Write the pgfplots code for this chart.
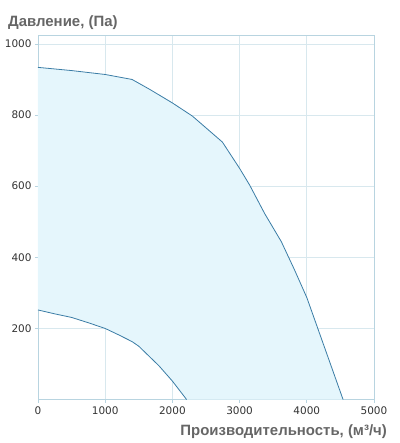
\documentclass[border=0pt]{standalone}
\usepackage{pgfplots}
\pgfplotsset{compat=1.18}
\usepackage{fontspec}
\setmainfont{DejaVu Sans}
\newfontfamily\labfont{Liberation Sans}
\definecolor{fillc}{HTML}{E5F6FC}
\definecolor{linec}{HTML}{3A7CA5}
\definecolor{gridc}{HTML}{D8E8EE}
\definecolor{axc}{HTML}{B8D4E0}
\definecolor{titc}{HTML}{666666}
\definecolor{tickc}{HTML}{333333}
\begin{document}
\begin{tikzpicture}
\begin{axis}[
  scale only axis, width=336bp, height=364.6bp,
  xmin=0, xmax=5000, ymin=0, ymax=1025,
  xtick={0,1000,...,5000}, ytick={200,400,...,1000},
  xtick pos=bottom, ytick pos=left,
  grid=major, major grid style={gridc, line width=0.7pt},
  axis line style={axc, line width=0.8pt},
  tick style={axc, line width=0.7pt}, tick align=outside, major tick length=3bp,
  /pgf/number format/assume math mode=true,
  /pgf/number format/1000 sep={},
  tick label style={font=\fontsize{10.5}{12}\selectfont, text=tickc},
  xticklabel style={yshift=-1bp},
  clip=false,
  axis on top=false,
]
% filled region
\addplot[fill=fillc, draw=none] coordinates {
  (0,934) (500,925) (1000,914) (1400,900) (1664,872) (2000,834) (2298,797)
  (2744,724) (3000,650) (3150,603) (3373,523) (3621,444) (3819,364) (4000,287) (4540,0)
  (2212,0) (2000,52) (1800,95) (1500,150) (1400,163) (1200,182) (1000,200)
  (750,216) (500,231) (250,241) (0,252)
} -- cycle;
% upper curve
\addplot[linec, line width=0.8pt] coordinates {
  (0,934) (500,925) (1000,914) (1400,900) (1664,872) (2000,834) (2298,797)
  (2744,724) (3000,650) (3150,603) (3373,523) (3621,444) (3819,364) (4000,287) (4540,0)
};
% lower curve
\addplot[linec, line width=0.8pt] coordinates {
  (0,252) (250,241) (500,231) (750,216) (1000,200) (1200,182) (1400,163)
  (1500,150) (1800,95) (2000,52) (2212,0)
};
\node[anchor=base west, inner sep=0pt, text=titc, font=\labfont\bfseries\fontsize{15}{18}\selectfont]
  at ([shift={(-30bp,8.7bp)}]rel axis cs:0,1) {Давление, (Па)};
\node[anchor=base east, inner sep=0pt, text=titc, font=\labfont\bfseries\fontsize{15}{18}\selectfont]
  at ([shift={(13bp,-35.4bp)}]rel axis cs:1,0) {Производительность, (м³/ч)};
\end{axis}
\path[use as bounding box] ([shift={(-38bp,-43.4bp)}]current axis.south west) rectangle ++(400bp,443bp);
\end{tikzpicture}
\end{document}
